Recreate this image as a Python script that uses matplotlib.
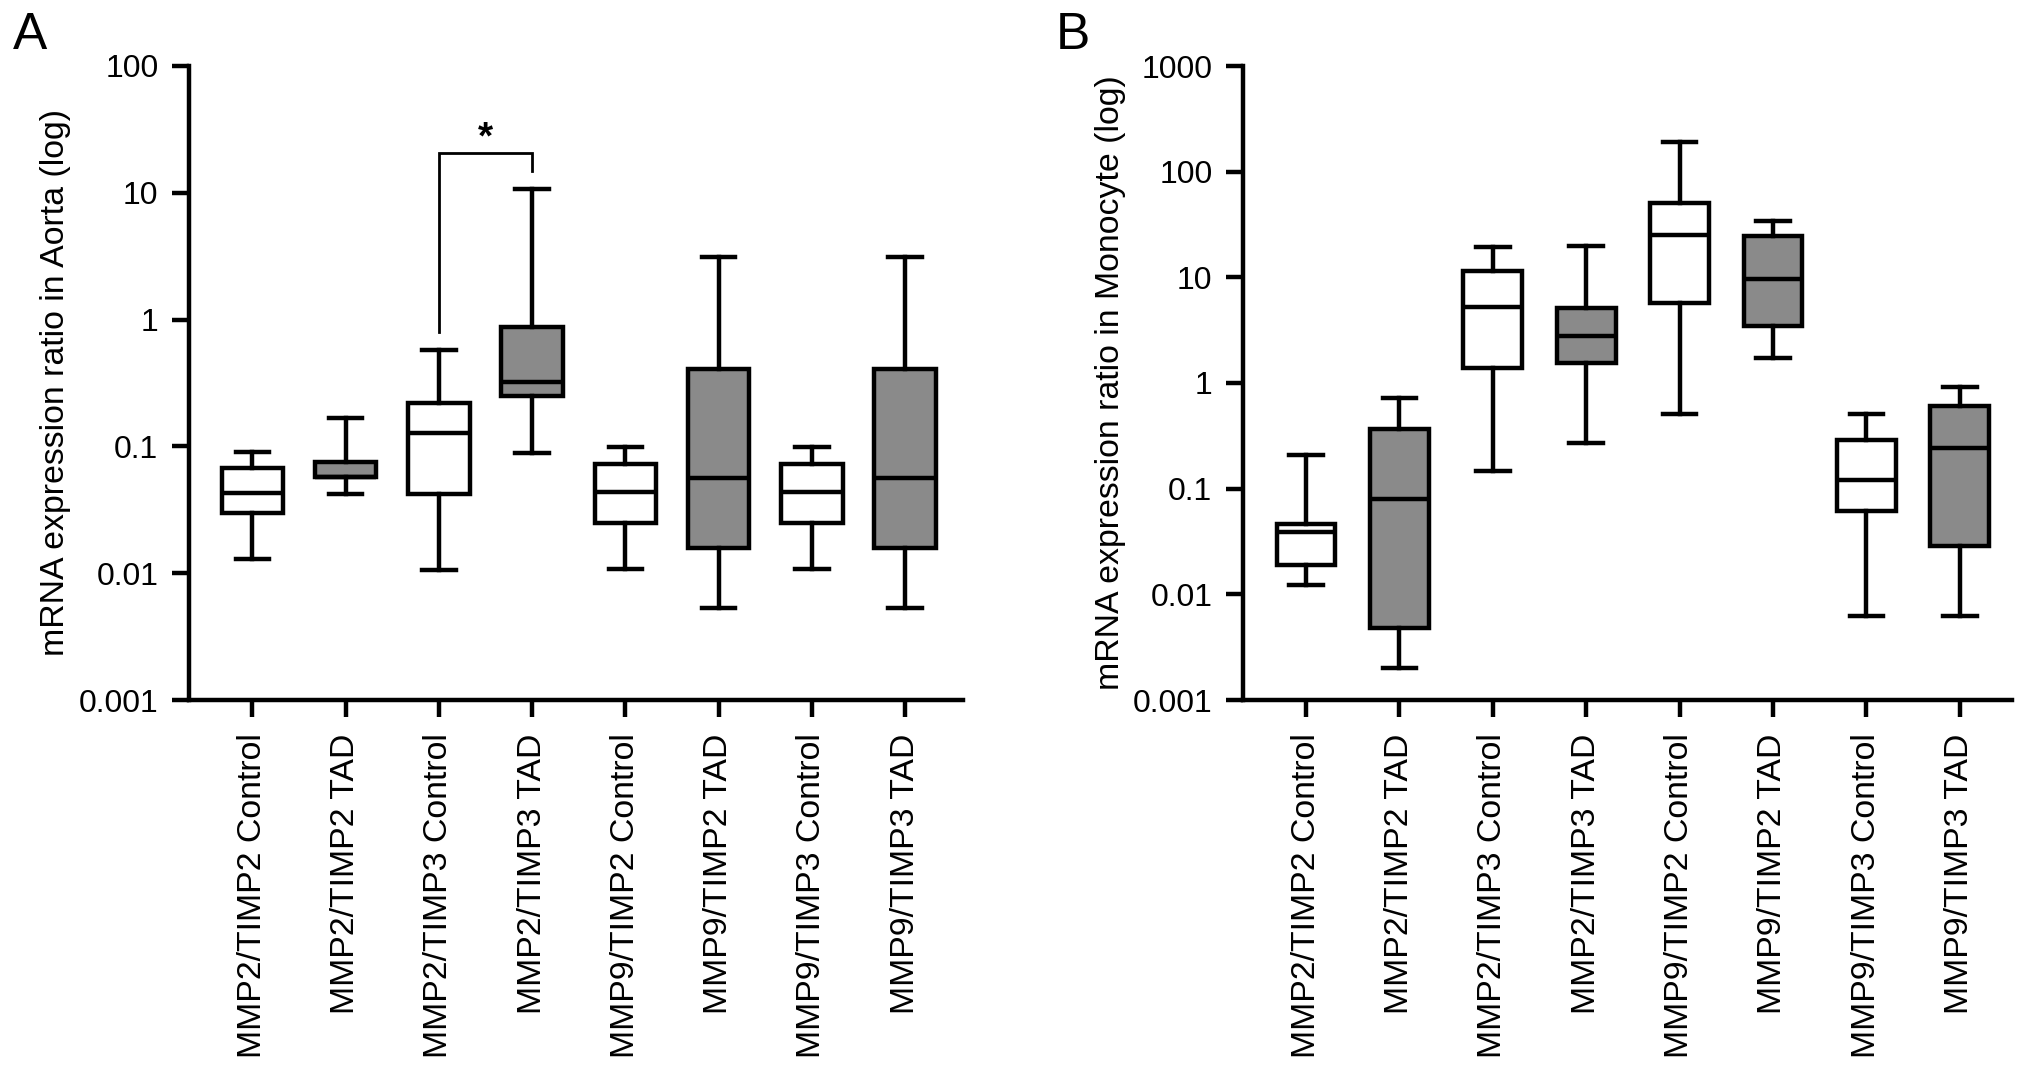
import matplotlib
matplotlib.use("Agg")
import matplotlib.pyplot as plt
from matplotlib.ticker import FixedLocator, FixedFormatter, NullLocator

plt.rcParams['font.family'] = ['Liberation Sans', 'DejaVu Sans']

categories = ["MMP2/TIMP2 Control", "MMP2/TIMP2 TAD", "MMP2/TIMP3 Control", "MMP2/TIMP3 TAD",
              "MMP9/TIMP2 Control", "MMP9/TIMP2 TAD", "MMP9/TIMP3 Control", "MMP9/TIMP3 TAD"]
groups = ["Control", "TAD", "Control", "TAD", "Control", "TAD", "Control", "TAD"]

# Panel A (Aorta)
aorta_whislo = [0.013, 0.042, 0.0106, 0.088, 0.0108, 0.0053, 0.0108, 0.0053]
aorta_q1     = [0.030, 0.057, 0.042, 0.25, 0.0249, 0.0157, 0.0249, 0.0157]
aorta_med    = [0.043, 0.057, 0.128, 0.32, 0.044, 0.0566, 0.044, 0.0566]
aorta_q3     = [0.068, 0.076, 0.22, 0.88, 0.073, 0.405, 0.073, 0.405]
aorta_whishi = [0.091, 0.168, 0.58, 10.8, 0.099, 3.1, 0.099, 3.1]

# Panel B (Monocyte)
mono_whislo = [0.0122, 0.0020, 0.147, 0.27, 0.51, 1.74, 0.0063, 0.0063]
mono_q1     = [0.019, 0.0048, 1.40, 1.55, 5.7, 3.46, 0.061, 0.0288]
mono_med    = [0.039, 0.080, 5.2, 2.77, 25.0, 9.7, 0.122, 0.244]
mono_q3     = [0.046, 0.365, 11.4, 5.1, 50.0, 24.5, 0.29, 0.61]
mono_whishi = [0.21, 0.72, 19.2, 20.0, 190.0, 34.5, 0.51, 0.92]

aorta_ticks = [0.001, 0.01, 0.1, 1, 10, 100]
aorta_ticklabels = ["0.001", "0.01", "0.1", "1", "10", "100"]
mono_ticks = [0.001, 0.01, 0.1, 1, 10, 100, 1000]
mono_ticklabels = ["0.001", "0.01", "0.1", "1", "10", "100", "1000"]

# significance bracket (panel A, between group 3 and 4)
sig_pair = (3, 4)
sig_left_low, sig_top, sig_right_low, sig_star_y = 0.80, 20.7, 14.9, 27.0

fill_colors = {"Control": "white", "TAD": "#8a8a8a"}

W, H = 2032, 1070
fig = plt.figure(figsize=(W / 100, H / 100), dpi=100)

LW = 3.2
TICK_FS = 23
LABEL_FS = 24.4


def make_panel(rect, lo, q1, med, q3, hi, ticks, ticklabels, ylabel, xlim, width):
    ax = fig.add_axes(rect)
    stats = []
    for i in range(len(categories)):
        stats.append(dict(whislo=lo[i], q1=q1[i], med=med[i], q3=q3[i], whishi=hi[i],
                          fliers=[], label=categories[i]))
    pos = list(range(1, len(categories) + 1))
    bp = ax.bxp(stats, positions=pos, widths=width, capwidths=0.36, patch_artist=True,
                showfliers=False,
                boxprops=dict(linewidth=LW, edgecolor="black"),
                whiskerprops=dict(linewidth=LW, color="black"),
                capprops=dict(linewidth=LW, color="black"),
                medianprops=dict(linewidth=LW, color="black"))
    for patch, g in zip(bp["boxes"], groups):
        patch.set_facecolor(fill_colors[g])
    ax.set_yscale("log")
    ax.set_ylim(ticks[0], ticks[-1])
    ax.set_xlim(*xlim)
    ax.yaxis.set_major_locator(FixedLocator(ticks))
    ax.yaxis.set_major_formatter(FixedFormatter(ticklabels))
    ax.yaxis.set_minor_locator(NullLocator())
    ax.set_xticks(pos)
    ax.set_xticklabels(categories, rotation=90, fontsize=LABEL_FS)
    for s in ["top", "right"]:
        ax.spines[s].set_visible(False)
    for s in ["left", "bottom"]:
        ax.spines[s].set_linewidth(LW)
    ax.tick_params(axis="both", width=LW, length=12)
    ax.tick_params(axis="y", labelsize=TICK_FS, pad=10)
    ax.tick_params(axis="x", pad=12)
    ax.set_ylabel(ylabel, fontsize=LABEL_FS)
    ax.yaxis.set_label_coords(-0.152, 0.5)
    return ax


axA = make_panel([189 / W, 1 - 700 / H, 774 / W, 634 / H],
                 aorta_whislo, aorta_q1, aorta_med, aorta_q3, aorta_whishi,
                 aorta_ticks, aorta_ticklabels, "mRNA expression ratio in Aorta (log)",
                 (0.32, 8.62), 0.66)
axB = make_panel([1243 / W, 1 - 700 / H, 769 / W, 634 / H],
                 mono_whislo, mono_q1, mono_med, mono_q3, mono_whishi,
                 mono_ticks, mono_ticklabels, "mRNA expression ratio in Monocyte (log)",
                 (0.325, 8.56), 0.63)

x1, x2 = sig_pair
axA.plot([x1, x1, x2, x2], [sig_left_low, sig_top, sig_top, sig_right_low],
         color="black", linewidth=2.0, solid_joinstyle="miter", clip_on=False)
axA.text((x1 + x2) / 2, sig_star_y, "*", ha="center", va="center", fontsize=28,
         fontweight="bold")

fig.text(13 / W, 1 - 49 / H, "A", fontsize=37, ha="left", va="baseline")
fig.text(1056 / W, 1 - 49 / H, "B", fontsize=37, ha="left", va="baseline")

fig.savefig("out.png", dpi=100, facecolor="white")
